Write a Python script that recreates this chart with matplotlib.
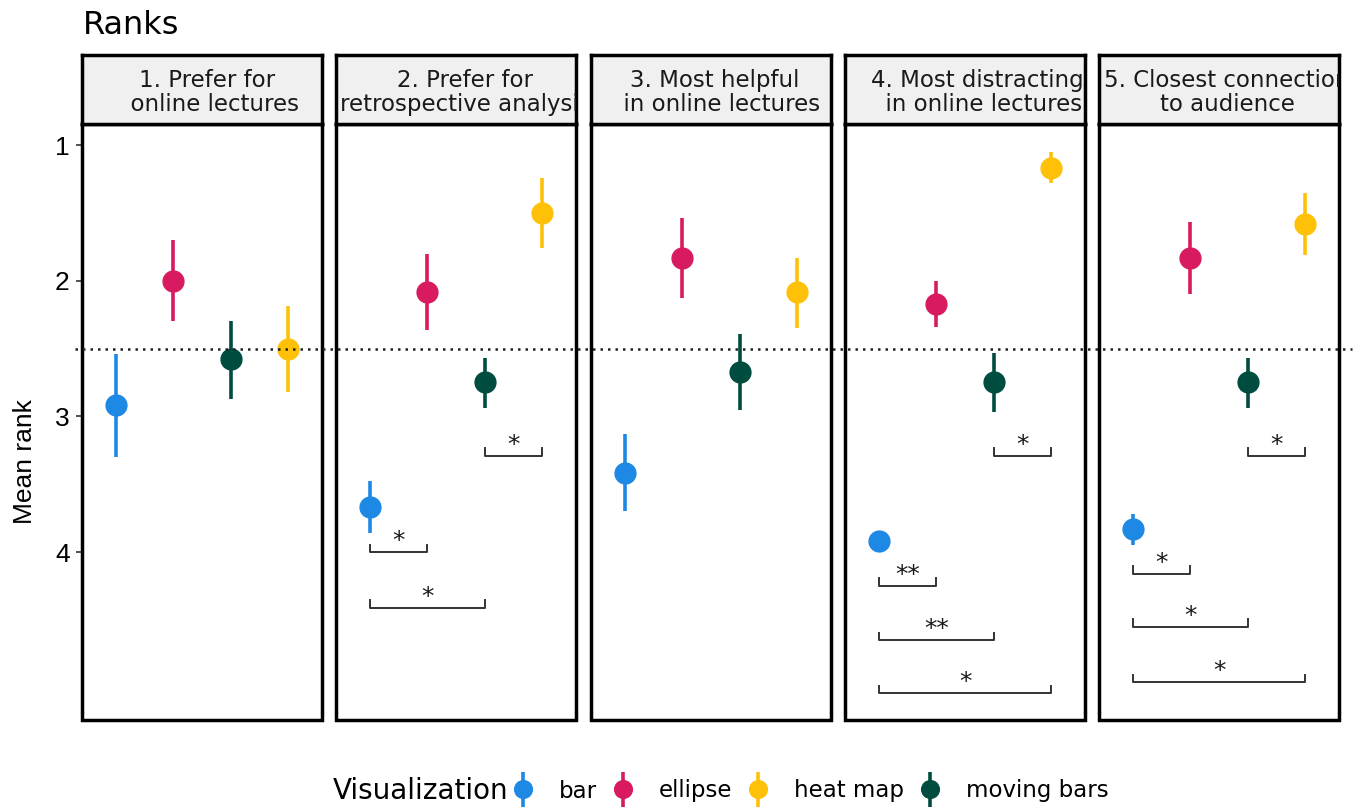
import matplotlib

matplotlib.use("Agg")
import matplotlib.pyplot as plt
from matplotlib.lines import Line2D
from matplotlib.legend_handler import HandlerErrorbar
from matplotlib.transforms import blended_transform_factory

# ------------------------------------------
# Data: mean rank (lower = better) with CI per question
# ------------------------------------------
QUESTIONS = [
    "1. Prefer for\n  online lectures",
    "2. Prefer for\nretrospective analysis",
    "3. Most helpful\n  in online lectures",
    "4. Most distracting\n  in online lectures",
    "5. Closest connection\nto audience",
]

# x order inside each panel
VIS_ORDER = ["bar", "ellipse", "moving bars", "heat map"]
LEGEND_ORDER = ["bar", "ellipse", "heat map", "moving bars"]
COLORS = {"bar": "#1E88E5", "ellipse": "#D81B60",
          "heat map": "#FFC107", "moving bars": "#004D40"}

# one row per question, columns follow VIS_ORDER
MEANS = [
    [2.92, 2.00, 2.58, 2.50],
    [3.67, 2.08, 2.75, 1.50],
    [3.42, 1.83, 2.67, 2.08],
    [3.92, 2.17, 2.75, 1.17],
    [3.83, 1.83, 2.75, 1.58],
]
CI_LOW = [
    [2.54, 1.70, 2.30, 2.19],
    [3.48, 1.80, 2.57, 1.24],
    [3.13, 1.54, 2.39, 1.83],
    [3.88, 2.00, 2.53, 1.05],
    [3.72, 1.57, 2.57, 1.35],
]
CI_HIGH = [
    [3.30, 2.30, 2.87, 2.82],
    [3.86, 2.36, 2.94, 1.76],
    [3.70, 2.13, 2.95, 2.35],
    [3.96, 2.34, 2.97, 1.28],
    [3.95, 2.10, 2.94, 1.81],
]

# significance brackets: (question index, from, to, y, label)
BRACKETS = [
    (1, "moving bars", "heat map", 3.29, "*"),
    (1, "bar", "ellipse", 4.00, "*"),
    (1, "bar", "moving bars", 4.41, "*"),
    (3, "moving bars", "heat map", 3.29, "*"),
    (3, "bar", "ellipse", 4.25, "**"),
    (3, "bar", "moving bars", 4.65, "**"),
    (3, "bar", "heat map", 5.04, "*"),
    (4, "moving bars", "heat map", 3.29, "*"),
    (4, "bar", "ellipse", 4.16, "*"),
    (4, "bar", "moving bars", 4.55, "*"),
    (4, "bar", "heat map", 4.96, "*"),
]

CHANCE_LEVEL = 2.5
Y_TICKS = [1, 2, 3, 4]

# ------------------------------------------
# Layout (pixels)
# ------------------------------------------
W, H = 1359, 807
PANEL_LEFTS = [82, 336, 591, 845, 1099]
PANEL_W = 240
STRIP_TOP, PANEL_TOP, PANEL_BOTTOM = 55, 124, 711
STRIP_SHIFT = [5, 9, 4, 12, 8]   # label nudge to the right, px
SANS = "DejaVu Sans"
ARIAL = "Liberation Sans"


def fx(px):
    return px / W


def fy(py):
    return 1 - py / H


fig = plt.figure(figsize=(W / 100, H / 100), dpi=100, facecolor="white")

axes = []
handles = {}
for i, question in enumerate(QUESTIONS):
    left = PANEL_LEFTS[i]
    ax = fig.add_axes([fx(left), fy(PANEL_BOTTOM), PANEL_W / W,
                       (PANEL_BOTTOM - PANEL_TOP) / H])
    ax.set_xlim(0.4, 4.6)
    ax.set_ylim(5.172, 0.845)
    for side in ["left", "right", "top"]:
        ax.spines[side].set_linewidth(2.5)
        ax.spines[side].set_color("black")
    ax.spines["bottom"].set_visible(False)
    ax.set_xticks([])

    if i == 0:
        ax.set_yticks(Y_TICKS)
        ax.set_yticklabels([str(t) for t in Y_TICKS], fontsize=19,
                           family=ARIAL, color="black")
        ax.tick_params(axis="y", length=4, width=1.2, color="#333333", pad=5)
    else:
        ax.set_yticks([])

    for j, vis in enumerate(VIS_ORDER):
        m = MEANS[i][j]
        err = [[m - CI_LOW[i][j]], [CI_HIGH[i][j] - m]]
        h = ax.errorbar(j + 1, m, yerr=err, fmt="o", color=COLORS[vis],
                        mec=COLORS[vis], ms=15, elinewidth=2.6, capsize=0,
                        zorder=3)
        handles.setdefault(vis, h)

    # bracket along the lower edge of the panel
    y_lo, y_hi = PANEL_BOTTOM + 3, PANEL_BOTTOM + 9
    xs = [fx(left), fx(left), fx(left + PANEL_W), fx(left + PANEL_W)]
    ys = [fy(y_lo), fy(y_hi), fy(y_hi), fy(y_lo)]
    fig.add_artist(Line2D(xs, ys, color="black", lw=2.5,
                          solid_joinstyle="miter", transform=fig.transFigure))

    # facet strip
    strip = fig.add_axes([fx(left), fy(PANEL_TOP), PANEL_W / W,
                          (PANEL_TOP - STRIP_TOP) / H])
    strip.set_facecolor("#F0F0F0")
    strip.set_xticks([])
    strip.set_yticks([])
    for sp in strip.spines.values():
        sp.set_linewidth(2.5)
        sp.set_color("black")
    t = strip.text(0.5 + STRIP_SHIFT[i] / PANEL_W, 0.5 - 3 / 69, question,
                   ha="center", va="center", multialignment="center",
                   fontsize=16.5, family=SANS, color="#1A1A1A",
                   linespacing=1.07, transform=strip.transAxes)
    t.set_clip_box(strip.bbox)
    t.set_clip_on(True)

    axes.append(ax)

# significance brackets
for qi, a, b, y, label in BRACKETS:
    ax = axes[qi]
    x1 = VIS_ORDER.index(a) + 1
    x2 = VIS_ORDER.index(b) + 1
    ax.plot([x1, x1, x2, x2], [y - 0.055, y, y, y - 0.055],
            color="#333333", lw=1.4, zorder=2)
    ax.text((x1 + x2) / 2, y - 0.03, label, ha="center", va="baseline",
            fontsize=18, family=SANS, color="#1A1A1A")

# dotted reference line across every panel
trans = blended_transform_factory(fig.transFigure, axes[0].transData)
fig.add_artist(Line2D([fx(75), fx(1352)], [CHANCE_LEVEL, CHANCE_LEVEL],
                      transform=trans, color="#222222", lw=1.8,
                      linestyle=(0, (1, 2.0)), zorder=5))

# titles
fig.text(fx(83), fy(25), "Ranks", fontsize=23, family=SANS,
         ha="left", va="center", color="black")
fig.text(fx(25), fy(462), "Mean rank", rotation=90, fontsize=19,
         family=ARIAL, ha="center", va="center", color="black")

# legend
fig.text(fx(333), fy(791), "Visualization", fontsize=20, family=SANS,
         ha="left", va="center", color="black")
fig.legend([handles[v] for v in LEGEND_ORDER], LEGEND_ORDER, ncol=4,
           loc="center left", bbox_to_anchor=(fx(515), fy(791)),
           frameon=False, prop={"family": SANS, "size": 16.5},
           handlelength=0.7, handletextpad=1.2, columnspacing=0.8,
           markerscale=0.85, borderpad=0, borderaxespad=0,
           handler_map={type(handles["bar"]): HandlerErrorbar(yerr_size=0.75)})

fig.savefig("out.png", dpi=100, facecolor="white")
